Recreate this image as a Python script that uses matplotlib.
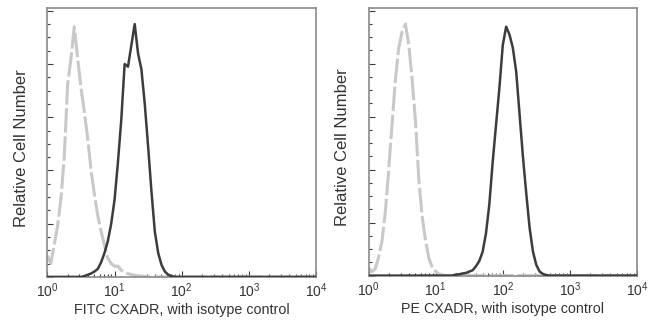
import matplotlib.pyplot as plt
import numpy as np
from matplotlib.ticker import LogLocator, MultipleLocator, NullFormatter

plt.rcParams["font.family"] = ["Liberation Sans", "DejaVu Sans"]

# histogram bins, in decades (10^0 .. 10^4, 0.05 decade steps)
log_bins = np.round(np.arange(0, 4.0001, 0.05), 2)

# relative cell counts per bin (trailing bins are empty)
fitc_isotype = [8, 5, 12, 19, 29, 45, 72, 82, 94, 82, 71, 62, 52, 40, 31, 23,
                17, 12, 7, 5, 4, 4, 2.5, 1.8, 1.2, 0.9, 0.6, 0.4, 0.3, 0.2]
fitc_cxadr = [0, 0, 0, 0, 0, 0, 0, 0, 0, 0, 0, 0.3, 0.8, 1.3, 2, 3, 5.5, 9,
              13.5, 20, 29, 43, 59, 80, 79, 87, 95, 84, 78, 65, 49, 32, 17, 9,
              4.5, 2, 0.8, 0.3]
pe_isotype = [3, 1.5, 2.5, 7, 13, 24, 40, 57, 74, 86, 92, 95, 87, 74, 58, 36,
              22, 13, 6.5, 3, 1.5, 0.6, 0.2]
pe_cxadr = [0, 0, 0, 0, 0, 0, 0, 0, 0, 0, 0, 0, 0, 0, 0, 0, 0, 0, 0, 0, 0, 0,
            0, 0, 0, 0, 0.4, 0.5, 0.8, 1, 1.5, 2, 3.5, 5.5, 9, 16, 27, 43, 57,
            71, 87, 94, 91, 86, 77, 61, 45, 31, 18, 9, 4, 1.5, 0.6, 0.2]

panels = [
    ("FITC CXADR, with isotype control", fitc_isotype, fitc_cxadr),
    ("PE CXADR, with isotype control", pe_isotype, pe_cxadr),
]

GRAY = "#c8c8c8"
DARK = "#3c3c3c"
FRAME = "#8a8a8a"
TEXT = "#333333"


def pad(values):
    return np.array(values + [0.0] * (len(log_bins) - len(values)), dtype=float)


def draw_panel(ax, xlabel, isotype, stained):

    x = 10 ** log_bins

    ax.plot(x, pad(isotype), color=GRAY, lw=2.2, dashes=(8, 1.2),
            solid_capstyle="butt", zorder=2)
    ax.plot(x, pad(stained), color=DARK, lw=1.8, zorder=3)

    ax.set_xscale("log")
    ax.set_xlim(1, 1e4)
    ax.set_ylim(0, 101)

    ax.xaxis.set_major_locator(LogLocator(base=10))
    ax.xaxis.set_minor_locator(LogLocator(base=10, subs=np.arange(2, 10)))
    ax.xaxis.set_minor_formatter(NullFormatter())

    ax.yaxis.set_major_locator(MultipleLocator(20))
    ax.yaxis.set_minor_locator(MultipleLocator(5))
    ax.set_yticklabels([])

    ax.tick_params(which="both", direction="in", top=False, right=False,
                   color=DARK, labelcolor=TEXT, labelsize=10, width=0.8)
    ax.tick_params(which="major", length=4.5, pad=3.5)
    ax.tick_params(which="minor", length=2.5)

    for spine in ax.spines.values():
        spine.set_color(FRAME)
        spine.set_linewidth(1.2)

    ax.set_xlabel(xlabel, fontsize=10.3, color=TEXT, labelpad=2)
    ax.set_ylabel("Relative Cell Number", fontsize=12, color=TEXT, va="center")
    ax.yaxis.set_label_coords(-0.097, 0.48)


fig = plt.figure(figsize=(6.5, 3.25), dpi=100)

left_ax = fig.add_axes([0.073, 0.148, 0.413, 0.827])
right_ax = fig.add_axes([0.567, 0.152, 0.413, 0.823])

for ax, (xlabel, isotype, stained) in zip([left_ax, right_ax], panels):
    draw_panel(ax, xlabel, isotype, stained)

fig.savefig("out.png", dpi=100)

plt.close()
